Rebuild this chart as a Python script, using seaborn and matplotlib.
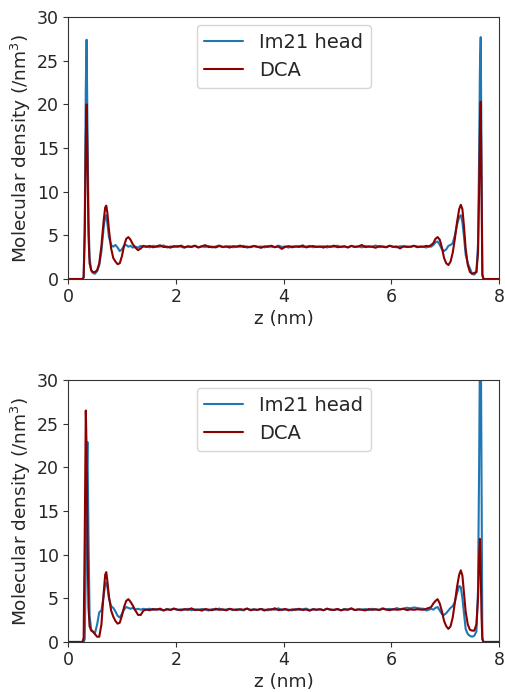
import numpy as np
import matplotlib
matplotlib.use("Agg")
import matplotlib.pyplot as plt
import seaborn as sns

# ---------------- data ----------------
LEFT_Z = [0.00, 0.27, 0.29, 0.31, 0.33, 0.345, 0.36, 0.38, 0.40, 0.43, 0.46, 0.50,
          0.54, 0.58, 0.62, 0.66, 0.69, 0.71, 0.73, 0.76, 0.80, 0.84, 0.88, 0.92,
          0.96, 1.00, 1.04, 1.08, 1.12, 1.16, 1.20, 1.25, 1.30, 1.35, 1.40]
RIGHT_Z = [6.60, 6.65, 6.70, 6.74, 6.78, 6.82, 6.86, 6.90, 6.94, 6.98, 7.02, 7.06,
           7.10, 7.14, 7.18, 7.22, 7.26, 7.29, 7.32, 7.35, 7.38, 7.42, 7.46, 7.50,
           7.54, 7.58, 7.61, 7.63, 7.645, 7.66, 7.675, 7.69, 7.71, 8.00]
MID_START, MID_END = 1.45, 6.55

# top panel
top_head_left = [0, 0, 0.2, 6, 22, 27.4, 18, 7, 2.5, 1.0, 0.7, 0.6, 0.9, 1.6, 3.2, 5.8,
                 7.2, 7.3, 6.4, 4.8, 3.9, 3.7, 3.9, 3.6, 3.2, 3.4, 3.8, 3.9, 3.7, 3.8,
                 3.6, 3.7, 3.6, 3.8, 3.7]
top_head_mid = [3.75, 3.62, 3.80, 3.68, 3.71, 3.85, 3.60, 3.74, 3.66, 3.79, 3.70, 3.58,
                3.76, 3.69, 3.82, 3.64, 3.73, 3.67, 3.78, 3.61, 3.72, 3.84, 3.65, 3.70,
                3.77, 3.63, 3.74, 3.68, 3.81, 3.59, 3.71, 3.76, 3.66, 3.73, 3.62, 3.79,
                3.70, 3.64, 3.83, 3.68, 3.72, 3.60, 3.75, 3.69, 3.78, 3.65, 3.71, 3.80,
                3.63, 3.74, 3.67, 3.77, 3.61, 3.73, 3.70, 3.82, 3.66, 3.72, 3.64, 3.79,
                3.69, 3.75, 3.62, 3.78, 3.68, 3.71, 3.84, 3.65, 3.73, 3.67, 3.80, 3.70,
                3.63, 3.76, 3.69, 3.74, 3.66, 3.81, 3.72, 3.68]
top_head_right = [3.7, 3.6, 3.8, 3.7, 3.9, 4.2, 4.3, 3.9, 3.4, 3.2, 3.4, 3.8, 3.9, 4.1,
                  5.0, 6.2, 7.1, 7.3, 6.5, 4.8, 2.8, 1.8, 1.2, 0.6, 0.5, 0.8, 4, 14,
                  24, 27.7, 14, 0.5, 0, 0]

top_dca_left = [0, 0, 0.2, 5, 16, 20.0, 14, 5, 1.8, 1.0, 0.8, 0.8, 1.0, 1.8, 3.8, 6.6,
                8.2, 8.4, 7.6, 5.6, 3.5, 2.4, 2.0, 1.7, 1.8, 2.6, 3.8, 4.6, 4.8, 4.5,
                4.0, 3.6, 3.3, 3.5, 3.8]
top_dca_mid = [3.68, 3.79, 3.63, 3.74, 3.86, 3.66, 3.71, 3.59, 3.77, 3.69, 3.82, 3.64,
               3.72, 3.67, 3.80, 3.61, 3.74, 3.88, 3.65, 3.70, 3.62, 3.78, 3.68, 3.73,
               3.60, 3.76, 3.69, 3.83, 3.66, 3.71, 3.64, 3.79, 3.70, 3.57, 3.74, 3.68,
               3.81, 3.65, 3.72, 3.45, 3.69, 3.77, 3.63, 3.74, 3.67, 3.85, 3.62, 3.71,
               3.78, 3.66, 3.73, 3.60, 3.76, 3.68, 3.82, 3.64, 3.70, 3.75, 3.61, 3.79,
               3.67, 3.72, 3.90, 3.65, 3.74, 3.69, 3.58, 3.77, 3.70, 3.63, 3.81, 3.68,
               3.73, 3.50, 3.76, 3.66, 3.71, 3.79, 3.64, 3.72]
top_dca_right = [3.7, 3.8, 3.7, 3.9, 4.1, 4.6, 4.8, 4.5, 3.6, 2.4, 1.8, 1.6, 2.0, 3.0,
                 4.6, 6.5, 8.0, 8.5, 8.0, 6.0, 3.5, 1.6, 0.8, 0.6, 0.7, 0.8, 3, 10,
                 17, 20.3, 10, 0.5, 0, 0]

# bottom panel
bot_head_left = [0, 0, 0, 0.3, 8, 18, 22.9, 12, 3, 1.4, 1.2, 1.0, 2.0, 3.4, 3.6, 5.2,
                 6.6, 6.8, 6.3, 5.0, 4.1, 3.9, 3.5, 3.0, 2.8, 3.2, 3.7, 4.0, 3.9, 3.8,
                 3.9, 3.7, 3.8, 3.7, 3.8]
bot_head_mid = [3.72, 3.81, 3.66, 3.77, 3.70, 3.62, 3.79, 3.68, 3.84, 3.65, 3.74, 3.69,
                3.80, 3.63, 3.73, 3.67, 3.78, 3.71, 3.60, 3.76, 3.68, 3.83, 3.66, 3.72,
                3.79, 3.64, 3.75, 3.70, 3.62, 3.81, 3.69, 3.74, 3.66, 3.78, 3.71, 3.63,
                3.77, 3.68, 3.85, 3.65, 3.73, 3.70, 3.61, 3.79, 3.67, 3.74, 3.82, 3.66,
                3.72, 3.69, 3.76, 3.63, 3.80, 3.70, 3.67, 3.75, 3.62, 3.78, 3.71, 3.84,
                3.66, 3.73, 3.69, 3.77, 3.64, 3.80, 3.72, 3.68, 3.86, 3.74, 3.79, 3.70,
                3.88, 3.76, 3.83, 3.92, 3.85, 3.95, 3.89, 3.82]
bot_head_right = [3.8, 3.6, 3.7, 3.8, 3.7, 3.9, 4.0, 3.6, 3.2, 3.1, 3.3, 3.6, 3.9, 4.1,
                  4.6, 5.6, 6.4, 6.3, 5.0, 3.2, 1.5, 0.9, 0.7, 0.6, 0.7, 1.2, 6, 20,
                  33, 37, 18, 0.5, 0, 0]

bot_dca_left = [0, 0, 0.5, 12, 26.5, 22, 12, 4, 1.8, 1.3, 1.2, 0.9, 0.6, 0.6, 2.0, 5.5,
                7.7, 8.0, 7.0, 5.2, 3.6, 2.9, 2.4, 2.1, 2.2, 3.0, 4.0, 4.7, 4.9, 4.6,
                4.2, 3.6, 3.1, 3.1, 3.6]
bot_dca_mid = [3.70, 3.64, 3.78, 3.69, 3.82, 3.61, 3.73, 3.67, 3.80, 3.72, 3.63, 3.76,
               3.68, 3.85, 3.66, 3.71, 3.59, 3.77, 3.70, 3.64, 3.81, 3.68, 3.74, 3.62,
               3.79, 3.71, 3.66, 3.75, 3.69, 3.83, 3.63, 3.72, 3.68, 3.78, 3.60, 3.74,
               3.70, 3.86, 3.65, 3.71, 3.77, 3.62, 3.73, 3.68, 3.80, 3.66, 3.72, 3.58,
               3.76, 3.69, 3.74, 3.64, 3.81, 3.70, 3.67, 3.78, 3.63, 3.72, 3.69, 3.84,
               3.65, 3.73, 3.70, 3.61, 3.77, 3.68, 3.74, 3.66, 3.80, 3.71, 3.64, 3.76,
               3.69, 3.72, 3.79, 3.65, 3.73, 3.68, 3.75, 3.70]
bot_dca_right = [3.7, 3.8, 3.9, 4.0, 4.4, 4.7, 4.9, 4.4, 3.5, 2.4, 1.8, 1.5, 1.8, 2.8,
                 4.5, 6.3, 7.7, 8.2, 7.6, 5.5, 3.5, 2.0, 1.4, 1.3, 1.3, 2.0, 5, 10,
                 11.8, 8, 3, 0.3, 0, 0]

SERIES_NAMES = ["Im21 head", "DCA"]
SERIES_COLORS = ["#1f77b4", "#8b0000"]
X_TICKS = [0, 2, 4, 6, 8]
Y_TICKS = [0, 5, 10, 15, 20, 25, 30]
X_LABEL = "z (nm)"
Y_LABEL = "Molecular density (/nm$^3$)"


def build(left, mid, right):
    z = np.concatenate([LEFT_Z, np.linspace(MID_START, MID_END, len(mid)), RIGHT_Z])
    y = np.concatenate([left, mid, right])
    return z, y


panels = [
    [build(top_head_left, top_head_mid, top_head_right),
     build(top_dca_left, top_dca_mid, top_dca_right)],
    [build(bot_head_left, bot_head_mid, bot_head_right),
     build(bot_dca_left, bot_dca_mid, bot_dca_right)],
]

# ---------------- plotting ----------------
sns.set_style("ticks")
plt.rcParams["font.family"] = ["DejaVu Sans"]
plt.rcParams["font.size"] = 12.5

fig = plt.figure(figsize=(5.05, 6.92), dpi=100)
axes_rects = [[0.1347, 0.5968, 0.8535, 0.3786], [0.1347, 0.0723, 0.8535, 0.3786]]

for rect, series in zip(axes_rects, panels):
    ax = fig.add_axes(rect)
    for (z, y), name, col in zip(series, SERIES_NAMES, SERIES_COLORS):
        sns.lineplot(x=z, y=y, ax=ax, color=col, label=name, linewidth=1.5,
                     sort=False, estimator=None)
    ax.set_xlim(0, 8)
    ax.set_ylim(0, 30)
    ax.set_xticks(X_TICKS)
    ax.set_yticks(Y_TICKS)
    ax.tick_params(labelsize=12.5, direction="out", length=3.5, width=0.8,
                   color="#333333", pad=3)
    for s in ax.spines.values():
        s.set_linewidth(0.8)
        s.set_color("#333333")
    ax.set_xlabel(X_LABEL, fontsize=13.3, labelpad=3)
    ax.set_ylabel(Y_LABEL, fontsize=13.3, labelpad=3)
    ax.legend(loc="upper center", fontsize=14, frameon=True, handlelength=2,
              borderaxespad=0.4)

fig.savefig("out.png", dpi=100)
